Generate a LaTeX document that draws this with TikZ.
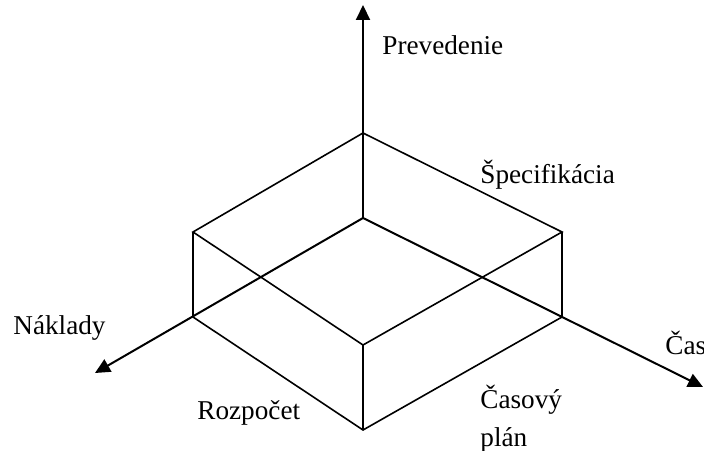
\documentclass[tikz,border=0pt]{standalone}
\usepackage{fontspec}
\setmainfont{Liberation Serif}
\usetikzlibrary{arrows.meta}

\begin{document}
\begin{tikzpicture}[x=0.5pt,y=0.5pt,
    axis/.style={line width=1pt,-{Triangle[length=7.5pt,width=7pt]}},
    edge/.style={line width=0.8pt},
    lbl/.style={anchor=west,inner sep=0pt,font=\fontsize{13.6}{19}\selectfont}]
    % Variables for the box size
    \def\boxh{85}
    \def\ox{363}
    \def\oy{232}

    \useasboundingbox (0,0) rectangle (704,450);

    % Corners of the box
    \coordinate (O) at (\ox,\oy);
    \coordinate (T) at (\ox,\oy+\boxh);
    \coordinate (Lb) at (193,133);
    \coordinate (Lt) at (193,133+\boxh);
    \coordinate (Rb) at (562,133);
    \coordinate (Rt) at (562,133+\boxh);
    \coordinate (Fb) at (\ox,20);
    \coordinate (Ft) at (\ox,20+\boxh);

    % Ends of the axes
    \coordinate (up) at (\ox,445);
    \coordinate (left) at (95,77);
    \coordinate (right) at (703,63);

    % Axes
    \draw[axis] (O) -- (up);
    \draw[axis] (O) -- (left);
    \draw[axis] (O) -- (right);

    % Top face
    \draw[edge] (T) -- (Lt) -- (Ft) -- (Rt) -- cycle;
    % Bottom face
    \draw[edge] (Lb) -- (Fb) -- (Rb);
    % Vertical edges
    \draw[edge] (Lt) -- (Lb);
    \draw[edge] (Rt) -- (Rb);
    \draw[edge] (Ft) -- (Fb);

    % Labels for the axes
    \node[lbl] (prev) at (382,405) {Prevedenie};
    \node[lbl] (spec) at (480,275) {Špecifikácia};
    \node[lbl] (nakl) at (13,122) {Náklady};
    \node[lbl] (rozp) at (197,37) {Rozpočet};
    \node[lbl] (cas) at (665,107) {Čas};
    \node[lbl,align=left] (plan) at (480,31) {Časový\\plán};

\end{tikzpicture}
\end{document}
